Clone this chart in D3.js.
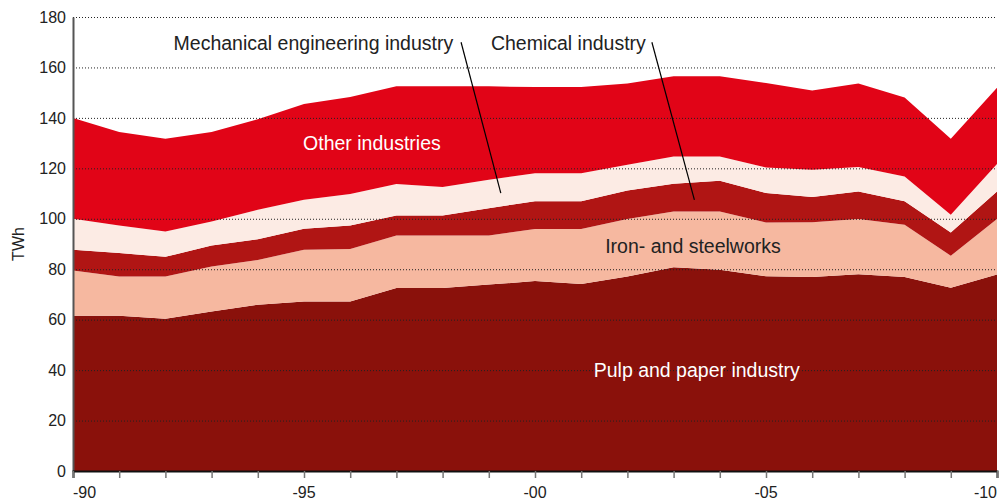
<!DOCTYPE html>
<html>
<head>
<meta charset="utf-8">
<script src="https://cdn.jsdelivr.net/npm/d3@7"></script>
<style>
  body { margin: 0; background: #fff; }
  svg { display: block; font-family: "Liberation Sans", Arial, sans-serif; }
</style>
</head>
<body>
<script>
const w = 1001;
const h = 501;
const margin = { top: 17, right: 4, bottom: 30, left: 73 };

// data (TWh)
const years = [1990, 1991, 1992, 1993, 1994, 1995, 1996, 1997, 1998, 1999, 2000,
  2001, 2002, 2003, 2004, 2005, 2006, 2007, 2008, 2009, 2010];
const pulp = [61.6, 61.6, 60.4, 63.2, 65.9, 67.2, 67.2, 72.6, 72.6, 73.9, 75.3,
  74.1, 77.1, 80.8, 79.8, 77.2, 76.9, 78.0, 76.9, 72.7, 77.9];
const iron = [17.9, 15.5, 16.7, 17.9, 17.8, 20.5, 20.8, 20.8, 20.8, 19.5, 20.6,
  21.8, 22.8, 22.1, 23.1, 21.3, 21.7, 21.9, 20.7, 12.6, 22.0];
const chemical = [8.2, 9.3, 7.8, 8.3, 8.2, 8.3, 9.3, 7.9, 7.9, 10.8, 11.0,
  11.0, 11.3, 11.0, 12.2, 11.7, 10.0, 10.9, 9.3, 9.3, 10.9];
const mechanical = [12.3, 10.9, 10.1, 9.5, 11.7, 11.5, 12.5, 12.5, 11.3, 11.3, 11.2,
  11.2, 10.2, 10.8, 9.6, 10.1, 10.8, 9.7, 9.9, 7.0, 10.9];
const other = [40.0, 37.1, 36.7, 35.5, 35.9, 38.0, 38.5, 38.7, 39.9, 37.0, 34.1,
  34.1, 32.2, 31.8, 31.8, 33.5, 31.5, 33.1, 31.3, 30.1, 30.2];
const yTicks = [0, 20, 40, 60, 80, 100, 120, 140, 160, 180];
const xLabels = [[1990, '-90'], [1995, '-95'], [2000, '-00'], [2005, '-05'], [2010, '-10']];

const keys = ['pulp', 'iron', 'chemical', 'mechanical', 'other'];
const colors = {
  pulp: '#8a110b',
  iron: '#f6b8a0',
  chemical: '#b01514',
  mechanical: '#fcebe4',
  other: '#e10417'
};

const table = years.map((y, i) => ({
  year: y, pulp: pulp[i], iron: iron[i], chemical: chemical[i],
  mechanical: mechanical[i], other: other[i]
}));

const svg = d3.select('body').append('svg')
  .attr('width', w)
  .attr('height', h);

const x = d3.scaleLinear()
  .domain([1990, 2010])
  .range([margin.left, w - margin.right]);
const y = d3.scaleLinear()
  .domain([0, 180])
  .range([h - margin.bottom, margin.top]);

const series = d3.stack().keys(keys)(table);
const area = d3.area()
  .x((d) => x(d.data.year))
  .y0((d) => y(d[0]))
  .y1((d) => y(d[1]));

svg.append('g')
  .selectAll('path')
  .data(series)
  .enter().append('path')
  .attr('fill', (d) => colors[d.key])
  .attr('d', area);

// dotted grid on top of the areas
svg.append('g')
  .selectAll('line')
  .data(yTicks.slice(1))
  .enter().append('line')
  .attr('x1', margin.left)
  .attr('x2', w - margin.right)
  .attr('y1', (d) => y(d) + 0.5)
  .attr('y2', (d) => y(d) + 0.5)
  .attr('stroke', '#222')
  .attr('stroke-width', 1)
  .attr('stroke-dasharray', '1,2');

// y axis
const yAxis = svg.append('g')
  .attr('transform', `translate(${margin.left},0)`)
  .call(d3.axisLeft(y).tickValues(yTicks).tickSize(0).tickPadding(7));
yAxis.select('.domain').attr('stroke', '#555').attr('stroke-width', 2);
yAxis.selectAll('text')
  .attr('font-size', 16)
  .attr('fill', '#222')
  .attr('font-family', '"Liberation Sans", Arial, sans-serif');

svg.append('text')
  .attr('transform', `translate(24,${y(90)}) rotate(-90)`)
  .attr('text-anchor', 'middle')
  .attr('font-size', 16)
  .attr('fill', '#222')
  .text('TWh');

// x axis
const xAxis = svg.append('g')
  .attr('transform', `translate(0,${y(0)})`)
  .call(d3.axisBottom(x).tickValues(years).tickSize(7).tickFormat(''));
xAxis.select('.domain').attr('stroke', '#111').attr('stroke-width', 2);
xAxis.selectAll('.tick line').attr('stroke', '#777').attr('stroke-width', 1.5);

svg.append('g')
  .selectAll('text')
  .data(xLabels)
  .enter().append('text')
  .attr('x', (d) => x(d[0]))
  .attr('y', h - 3)
  .attr('text-anchor', (d, i) => i === 0 ? 'start' : (i === xLabels.length - 1 ? 'end' : 'middle'))
  .attr('font-size', 16)
  .attr('fill', '#222')
  .text((d) => d[1]);

// labels
const labels = [
  { text: 'Other industries', year: 1996.47, v: 127.4, anchor: 'middle', fill: '#fff' },
  { text: 'Iron- and steelworks', year: 2003.42, v: 86.5, anchor: 'middle', fill: '#222' },
  { text: 'Pulp and paper industry', year: 2003.5, v: 37.3, anchor: 'middle', fill: '#fff' },
  { text: 'Mechanical engineering industry', year: 1998.23, v: 167, anchor: 'end', fill: '#222' },
  { text: 'Chemical industry', year: 2002.4, v: 167, anchor: 'end', fill: '#222' }
];
svg.append('g')
  .selectAll('text')
  .data(labels)
  .enter().append('text')
  .attr('x', (d) => x(d.year))
  .attr('y', (d) => y(d.v))
  .attr('text-anchor', (d) => d.anchor)
  .attr('font-size', 19.5)
  .attr('fill', (d) => d.fill)
  .text((d) => d.text);

// leader lines
const leaders = [
  [1998.4, 170, 1999.26, 110.2],
  [2002.53, 170, 2003.45, 107.5]
];
svg.append('g')
  .selectAll('line')
  .data(leaders)
  .enter().append('line')
  .attr('x1', (d) => x(d[0]))
  .attr('y1', (d) => y(d[1]))
  .attr('x2', (d) => x(d[2]))
  .attr('y2', (d) => y(d[3]))
  .attr('stroke', '#000')
  .attr('stroke-width', 1.2);
</script>
</body>
</html>
